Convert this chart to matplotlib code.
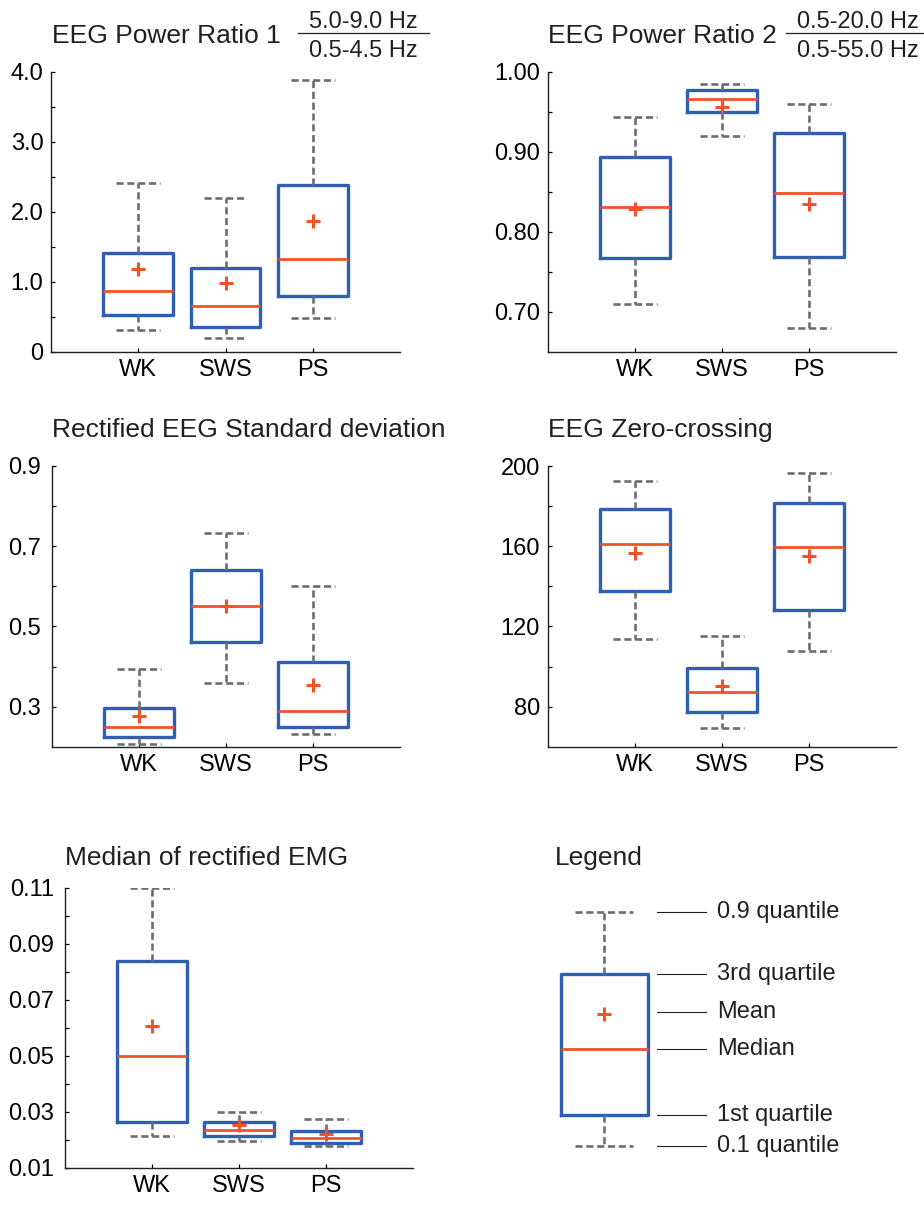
"""
Box plots of EEG/EMG sleep-stage features (WK, SWS, PS) with a drawn legend panel.
"""

import matplotlib
matplotlib.use('Agg')
import matplotlib.pyplot as plt
from matplotlib.lines import Line2D
from matplotlib.ticker import FixedLocator, FixedFormatter

W, H = 924, 1205

plt.rcParams['font.family'] = ['Liberation Sans', 'DejaVu Sans']
plt.rcParams['text.color'] = '#231f20'
plt.rcParams['axes.edgecolor'] = '#231f20'

BLUE = '#2f5fb3'
ORANGE = '#f0532b'
GRAY = '#6d6d6d'

stages = ['WK', 'SWS', 'PS']

# per stage: 0.1 quantile, Q1, median, mean, Q3, 0.9 quantile
ratio1_q10 = [0.31, 0.20, 0.48]
ratio1_q1 = [0.53, 0.35, 0.80]
ratio1_med = [0.87, 0.65, 1.32]
ratio1_mean = [1.18, 0.98, 1.87]
ratio1_q3 = [1.41, 1.20, 2.38]
ratio1_q90 = [2.41, 2.20, 3.88]

ratio2_q10 = [0.710, 0.920, 0.680]
ratio2_q1 = [0.767, 0.950, 0.768]
ratio2_med = [0.831, 0.966, 0.848]
ratio2_mean = [0.828, 0.956, 0.835]
ratio2_q3 = [0.894, 0.977, 0.923]
ratio2_q90 = [0.944, 0.985, 0.960]

rsd_q10 = [0.207, 0.358, 0.231]
rsd_q1 = [0.225, 0.462, 0.250]
rsd_med = [0.250, 0.550, 0.289]
rsd_mean = [0.277, 0.550, 0.353]
rsd_q3 = [0.297, 0.641, 0.410]
rsd_q90 = [0.393, 0.733, 0.600]

zc_q10 = [113.5, 69.3, 107.5]
zc_q1 = [137.5, 77.3, 128.3]
zc_med = [161.3, 87.3, 159.5]
zc_mean = [156.7, 90.5, 155.3]
zc_q3 = [178.5, 99.3, 181.3]
zc_q90 = [192.5, 115.3, 196.5]

emg_q10 = [0.0213, 0.0196, 0.0177]
emg_q1 = [0.0263, 0.0215, 0.0190]
emg_med = [0.0500, 0.0235, 0.0207]
emg_mean = [0.0606, 0.0253, 0.0220]
emg_q3 = [0.0839, 0.0262, 0.0232]
emg_q90 = [0.1100, 0.0299, 0.0273]

# schematic box for the legend panel
legend_labels = ['0.9 quantile', '3rd quartile', 'Mean', 'Median', '1st quartile', '0.1 quantile']
legend_values = [0.894, 0.686, 0.555, 0.436, 0.216, 0.114]
legend_label_y = [0.894, 0.686, 0.560, 0.436, 0.216, 0.114]

fig = plt.figure(figsize=(W / 100, H / 100), dpi=100)


def px_axes(left, top, right, bottom):
    return fig.add_axes([left / W, 1 - bottom / H, (right - left) / W, (bottom - top) / H])


def make_stats(q10, q1, med, mean, q3, q90):
    stats = []
    for i, name in enumerate(stages):
        stats.append(dict(label=name, whislo=q10[i], q1=q1[i], med=med[i],
                          mean=mean[i], q3=q3[i], whishi=q90[i], fliers=[]))
    return stats


box_kw = dict(widths=0.8, capwidths=0.5, showmeans=True, showfliers=False,
              boxprops=dict(color=BLUE, linewidth=2.4),
              whiskerprops=dict(color=GRAY, linewidth=1.9, linestyle=(0, (2.7, 1.4))),
              capprops=dict(color=GRAY, linewidth=1.9, linestyle=(0, (2.7, 1.4))),
              medianprops=dict(color=ORANGE, linewidth=2.0),
              meanprops=dict(marker='+', markeredgecolor=ORANGE, markersize=10,
                             markeredgewidth=2.2))


def box_panel(rect, stats, ylim, major, labels, minor, ypad=5.5):
    ax = px_axes(*rect)
    ax.bxp(stats, positions=[1, 2, 3], **box_kw)
    ax.set_xlim(0, 4)
    ax.set_ylim(*ylim)
    ax.spines['top'].set_visible(False)
    ax.spines['right'].set_visible(False)
    ax.spines['left'].set_linewidth(1.0)
    ax.spines['bottom'].set_linewidth(1.0)
    ax.yaxis.set_major_locator(FixedLocator(major))
    ax.yaxis.set_major_formatter(FixedFormatter(labels))
    ax.yaxis.set_minor_locator(FixedLocator(minor))
    ax.set_xticks([1, 2, 3])
    ax.set_xticklabels(stages)
    ax.tick_params(which='both', direction='in', length=3, width=0.9, labelsize=17)
    ax.tick_params(axis='y', pad=ypad)
    ax.tick_params(axis='x', pad=5)
    return ax


box_panel((51, 71.7, 400, 351.7),
          make_stats(ratio1_q10, ratio1_q1, ratio1_med, ratio1_mean, ratio1_q3, ratio1_q90),
          (0, 4), [0, 1, 2, 3, 4], ['0', '1.0', '2.0', '3.0', '4.0'], [0.5, 1.5, 2.5, 3.5])

box_panel((547.7, 71.7, 896, 351.7),
          make_stats(ratio2_q10, ratio2_q1, ratio2_med, ratio2_mean, ratio2_q3, ratio2_q90),
          (0.65, 1.0), [0.7, 0.8, 0.9, 1.0], ['0.70', '0.80', '0.90', '1.00'],
          [0.75, 0.85, 0.95])

box_panel((51.7, 466, 400, 746.7),
          make_stats(rsd_q10, rsd_q1, rsd_med, rsd_mean, rsd_q3, rsd_q90),
          (0.2, 0.9), [0.3, 0.5, 0.7, 0.9], ['0.3', '0.5', '0.7', '0.9'], [0.4, 0.6, 0.8],
          ypad=8)

box_panel((547.7, 466, 896, 746.7),
          make_stats(zc_q10, zc_q1, zc_med, zc_mean, zc_q3, zc_q90),
          (60, 200), [80, 120, 160, 200], ['80', '120', '160', '200'], [100, 140, 180])

box_panel((65, 887.7, 413, 1167.7),
          make_stats(emg_q10, emg_q1, emg_med, emg_mean, emg_q3, emg_q90),
          (0.01, 0.11), [0.01, 0.03, 0.05, 0.07, 0.09, 0.11],
          ['0.01', '0.03', '0.05', '0.07', '0.09', '0.11'], [0.02, 0.04, 0.06, 0.08, 0.10],
          ypad=8)

# legend panel: x in pixels from 540, y in 0..1 units
lax = px_axes(540, 880, 924, 1180)
lax.set_xlim(0, 384)
lax.set_ylim(0, 1)
lax.axis('off')
lv = legend_values
lax.bxp([dict(whishi=lv[0], q3=lv[1], mean=lv[2], med=lv[3], q1=lv[4], whislo=lv[5],
              fliers=[])],
        positions=[64.3], widths=87.6, capwidths=58,
        showmeans=True, showfliers=False,
        boxprops=box_kw['boxprops'], whiskerprops=box_kw['whiskerprops'],
        capprops=box_kw['capprops'], medianprops=box_kw['medianprops'],
        meanprops=box_kw['meanprops'], manage_ticks=False)
for lab, y in zip(legend_labels, legend_label_y):
    lax.plot([116.7, 165.7], [y, y], color='#231f20', linewidth=0.8)
    lax.text(176.7, y, lab, fontsize=17, va='center', ha='left')


def fig_text(x, y, s, **kw):
    fig.text(x / W, 1 - y / H, s, **kw)


title_kw = dict(fontsize=19, ha='left', va='baseline')
fig_text(52, 43.3, 'EEG Power Ratio 1', **title_kw)
fig_text(548.3, 43.3, 'EEG Power Ratio 2', **title_kw)
fig_text(52, 437.3, 'Rectified EEG Standard deviation', **title_kw)
fig_text(548.3, 437.3, 'EEG Zero-crossing', **title_kw)
fig_text(65, 865, 'Median of rectified EMG', **title_kw)
fig_text(555, 865, 'Legend', **title_kw)

# band fractions next to the ratio titles
frac_kw = dict(fontsize=17, ha='center', va='baseline')
for cx, x0, x1, num, den in [(363.8, 297.7, 429, '5.0-9.0 Hz', '0.5-4.5 Hz'),
                             (857.7, 786, 924, '0.5-20.0 Hz', '0.5-55.0 Hz')]:
    fig_text(cx, 28.3, num, **frac_kw)
    fig_text(cx, 56.7, den, **frac_kw)
    fig.add_artist(Line2D([x0 / W, x1 / W], [1 - 33.3 / H, 1 - 33.3 / H],
                          color='#231f20', linewidth=0.9))

fig.savefig('out.png', dpi=100)
